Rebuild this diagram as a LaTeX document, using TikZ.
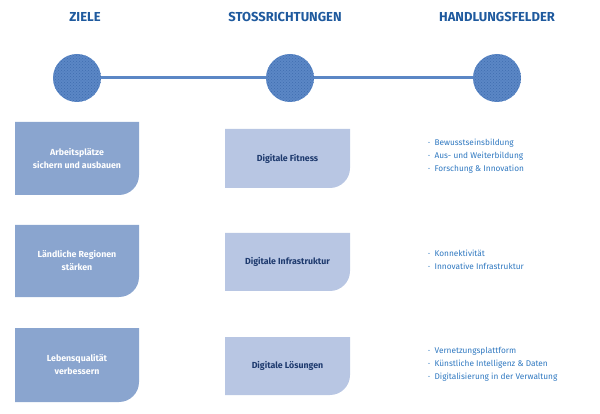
\documentclass[tikz,border=0pt]{standalone}
\usepackage{fontspec}
\setmainfont{Fira Sans}
\usetikzlibrary{patterns}
\definecolor{hd}{HTML}{1F5A9E}
\definecolor{cb}{HTML}{5B87C5}
\definecolor{cdot}{HTML}{3F6DB0}
\definecolor{lb}{HTML}{8AA5CF}
\definecolor{mb}{HTML}{B8C6E3}
\definecolor{tx}{HTML}{1E3A6E}
\definecolor{lt}{HTML}{2F78C0}
\newcommand{\mybox}[7]{%
 \fill[#6,rounded corners=20pt] (#2,#3) [sharp corners]-- (#2+#4,#3) [rounded corners=20pt]-- (#2+#4,#3-#5) [sharp corners]-- (#2,#3-#5) -- cycle;
 \node[boxtext,#7] (#1) at (#2+#4/2,#3-#5/2) {\strut};}
\begin{document}
\begin{tikzpicture}[x=1pt,y=1pt,
 head/.style={text=hd,font=\bfseries\fontsize{13}{15}\selectfont},
 circ/.style={circle,minimum size=48pt,fill=cb,inner sep=0},
 boxtext/.style={align=center,font=\bfseries\fontsize{8.8}{13}\selectfont},
 list/.style={anchor=north west,align=left,text=lt,font=\fontsize{8.3}{13}\selectfont,inner sep=0}]
\useasboundingbox (0,0) rectangle (600,-414);
\node[head] (h1) at (85,-17) {ZIELE};
\node[head] (h2) at (285,-17) {STOSSRICHTUNGEN};
\node[head] (h3) at (497,-17) {HANDLUNGSFELDER};
\node[circ] (c1) at (77,-78) {};
\node[circ] (c2) at (290,-78) {};
\node[circ] (c3) at (497,-78) {};
\foreach \c in {c1,c2,c3}{\fill[pattern=crosshatch dots,pattern color=cdot] (\c) circle (24pt);}
\draw[cb,line width=3pt] (c1) -- (c2) -- (c3);
\mybox{z1}{15}{-122}{124}{73}{lb}{text=white};
\node[boxtext,text=white] at (z1) {Arbeitsplätze\\sichern und ausbauen};
\mybox{z2}{15}{-225}{124}{72}{lb}{text=white};
\node[boxtext,text=white] at (z2) {Ländliche Regionen\\stärken};
\mybox{z3}{15}{-328}{124}{74}{lb}{text=white};
\node[boxtext,text=white] at (z3) {Lebensqualität\\verbessern};
\mybox{s1}{225}{-129}{125}{59}{mb}{};
\node[boxtext,text=tx] at (s1) {Digitale Fitness};
\mybox{s2}{225}{-233}{125}{58}{mb}{};
\node[boxtext,text=tx] at (s2) {Digitale Infrastruktur};
\mybox{s3}{225}{-337}{125}{58}{mb}{};
\node[boxtext,text=tx] at (s3) {Digitale Lösungen};
\node[list] (l1) at (428,-139) {·\ \ Bewusstseinsbildung\\·\ \ Aus- und Weiterbildung\\·\ \ Forschung \& Innovation};
\node[list] (l2) at (428,-250) {·\ \ Konnektivität\\·\ \ Innovative Infrastruktur};
\node[list] (l3) at (428,-347) {·\ \ Vernetzungsplattform\\·\ \ Künstliche Intelligenz \& Daten\\·\ \ Digitalisierung in der Verwaltung};
\end{tikzpicture}
\end{document}
